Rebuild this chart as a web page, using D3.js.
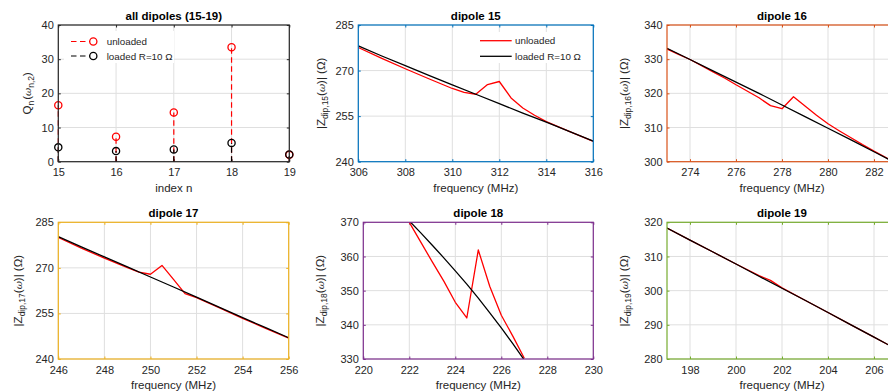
<!DOCTYPE html>
<html>
<head>
<meta charset="utf-8">
<script src="https://cdn.jsdelivr.net/npm/d3@7"></script>
<style>
  html, body { margin: 0; padding: 0; background: #fff; }
  svg { display: block; font-family: "Liberation Sans", Arial, Helvetica, sans-serif; }
</style>
</head>
<body>
<svg id="chart" width="888" height="392"></svg>
<script>
// ---------------- data ----------------
const dipoleIdx = [15, 16, 17, 18, 19];
const qUnloaded = [16.5, 7.3, 14.4, 33.5, 2.0];
const qLoaded   = [4.2, 3.1, 3.6, 5.5, 2.1];

// dipole 15
const f15Unl = [306, 307, 308, 309, 310, 310.5, 311, 311.5, 312, 312.5, 313, 313.5, 314, 315, 316];
const z15Unl = [277.6, 274.0, 270.6, 267.3, 264.1, 262.8, 262.2, 265.4, 266.4, 261.0, 257.7, 255.3, 253.2, 249.9, 246.7];
const f15Ld  = [306, 307, 308, 309, 310, 311, 312, 313, 314, 315, 316];
const z15Ld  = [278.1, 274.8, 271.6, 268.4, 265.3, 262.2, 259.1, 256.0, 253.0, 249.9, 246.8];

// dipole 16
const f16Unl = [273, 273.5, 274, 274.5, 275, 275.5, 276, 276.5, 277, 277.5, 278, 278.5, 279, 279.5, 280, 280.5, 281, 281.5, 282, 282.5, 283];
const z16Unl = [333.0, 331.4, 329.9, 328.1, 326.3, 324.5, 322.5, 320.6, 318.7, 316.4, 315.5, 319.0, 316.3, 313.6, 311.1, 309.0, 307.0, 305.0, 303.1, 301.3, 299.4];
const f16Ld  = [273, 274, 275, 276, 277, 278, 279, 280, 281, 282, 283];
const z16Ld  = [333.2, 329.9, 326.6, 323.3, 320.0, 316.6, 313.2, 309.8, 306.4, 302.9, 299.4];

// dipole 17
const f17Unl = [246, 247, 248, 249, 249.5, 250, 250.5, 251, 251.5, 252, 253, 254, 255, 256];
const z17Unl = [280.0, 276.5, 273.2, 270.1, 268.6, 267.9, 270.8, 266.2, 261.5, 260.2, 256.8, 253.4, 250.1, 246.9];
const f17Ld  = [246, 247, 248, 249, 250, 251, 252, 253, 254, 255, 256];
const z17Ld  = [280.3, 276.9, 273.6, 270.3, 267.0, 263.7, 260.4, 257.0, 253.6, 250.3, 247.0];

// dipole 18
const f18Unl = [222, 222.5, 223, 223.5, 224, 224.5, 225, 225.5, 226, 226.5, 227];
const z18Unl = [370.0, 364.2, 358.4, 352.8, 346.6, 342.0, 361.9, 351.2, 342.8, 336.7, 330.2];
const f18Ld  = [222, 222.5, 223, 223.5, 224, 224.5, 225, 225.5, 226, 226.5, 227];
const z18Ld  = [370.4, 366.9, 363.3, 359.6, 355.8, 351.9, 347.8, 343.5, 339.1, 334.5, 329.7];

// dipole 19
const f19Unl = [197, 198, 199, 200, 201, 201.5, 202, 203, 204, 205, 206, 207];
const z19Unl = [318.3, 314.8, 311.3, 307.8, 304.4, 303.0, 300.8, 297.2, 293.6, 290.0, 286.4, 282.8];
const f19Ld  = [197, 198, 199, 200, 201, 202, 203, 204, 205, 206, 207];
const z19Ld  = [318.3, 314.8, 311.3, 307.8, 304.2, 300.7, 297.2, 293.6, 290.0, 286.4, 282.8];

const legendLabels = ["unloaded", "loaded R=10 \u03A9"];

// ---------------- helpers ----------------
const svg = d3.select("#chart");
const TICK_FS = 11, LABEL_FS = 11.5, TITLE_FS = 11.5, LEG_FS = 9.8;
const TXT = "#262626", GRID = "#dfdfdf";

function makePanel(cfg) {
  const g = svg.append("g");
  const x = d3.scaleLinear().domain(cfg.xDomain).range([cfg.left, cfg.right]);
  const y = d3.scaleLinear().domain(cfg.yDomain).range([cfg.bottom, cfg.top]);
  const clipId = "clip" + cfg.id;
  svg.append("clipPath").attr("id", clipId).append("rect")
    .attr("x", cfg.left).attr("y", cfg.top)
    .attr("width", cfg.right - cfg.left).attr("height", cfg.bottom - cfg.top);

  // grid
  g.append("g").selectAll("line").data(cfg.xTicks).join("line")
    .attr("x1", d => x(d)).attr("x2", d => x(d))
    .attr("y1", cfg.top).attr("y2", cfg.bottom)
    .attr("stroke", GRID).attr("stroke-width", 1);
  g.append("g").selectAll("line").data(cfg.yTicks).join("line")
    .attr("x1", cfg.left).attr("x2", cfg.right)
    .attr("y1", d => y(d)).attr("y2", d => y(d))
    .attr("stroke", GRID).attr("stroke-width", 1);

  const tl = 2.5;
  const axB = g.append("g").attr("transform", `translate(0,${cfg.bottom})`)
    .call(d3.axisBottom(x).tickValues(cfg.xTicks).tickFormat(d3.format("d")).tickSizeInner(-tl).tickSizeOuter(0).tickPadding(7));
  const axT = g.append("g").attr("transform", `translate(0,${cfg.top})`)
    .call(d3.axisTop(x).tickValues(cfg.xTicks).tickFormat("").tickSizeInner(-tl).tickSizeOuter(0));
  const axL = g.append("g").attr("transform", `translate(${cfg.left},0)`)
    .call(d3.axisLeft(y).tickValues(cfg.yTicks).tickFormat(d3.format("d")).tickSizeInner(-tl).tickSizeOuter(0).tickPadding(4.5));
  const axR = g.append("g").attr("transform", `translate(${cfg.right},0)`)
    .call(d3.axisRight(y).tickValues(cfg.yTicks).tickFormat("").tickSizeInner(-tl).tickSizeOuter(0));
  [axB, axT, axL, axR].forEach(a => {
    a.select(".domain").remove();
    a.selectAll(".tick line").attr("stroke", cfg.color).attr("stroke-width", 1);
    a.selectAll(".tick text").attr("fill", TXT).attr("font-size", TICK_FS)
      .attr("font-family", "Liberation Sans, Arial, sans-serif");
  });

  // data
  const plot = g.append("g").attr("clip-path", cfg.clipData === false ? null : `url(#${clipId})`);
  cfg.draw(plot, x, y);

  // box
  g.append("rect").attr("x", cfg.left).attr("y", cfg.top)
    .attr("width", cfg.right - cfg.left).attr("height", cfg.bottom - cfg.top)
    .attr("fill", "none").attr("stroke", cfg.color).attr("stroke-width", 1.2);

  // title
  g.append("text").attr("x", (cfg.left + cfg.right) / 2).attr("y", cfg.top - 5)
    .attr("text-anchor", "middle").attr("font-weight", "bold").attr("font-size", TITLE_FS)
    .attr("fill", "#000").text(cfg.title);
  // x label
  g.append("text").attr("x", (cfg.left + cfg.right) / 2).attr("y", cfg.bottom + 30)
    .attr("text-anchor", "middle").attr("font-size", LABEL_FS).attr("fill", TXT).text(cfg.xLabel);
  // y label
  const yl = g.append("text")
    .attr("transform", `translate(${cfg.left - cfg.yLabelOff},${(cfg.top + cfg.bottom) / 2}) rotate(-90)`)
    .attr("text-anchor", "middle").attr("font-size", LABEL_FS).attr("fill", TXT);
  cfg.yLabel(yl);
  if (cfg.legend) cfg.legend(g, x, y);
  return { x, y };
}

function zLabel(n) {
  return t => {
    t.append("tspan").text("|Z");
    t.append("tspan").attr("font-size", 8.5).attr("dy", 3).text("dip," + n);
    t.append("tspan").attr("dy", -3).text("(");
    t.append("tspan").attr("font-style", "italic").attr("font-family", "DejaVu Serif, serif").attr("font-size", 10).text("\u03C9");
    t.append("tspan").text(")| (\u03A9)");
  };
}

function drawPair(fU, zU, fL, zL) {
  return (p, x, y) => {
    const line = d3.line().x(d => x(d[0])).y(d => y(d[1]));
    p.append("path").datum(d3.zip(fU, zU)).attr("d", line)
      .attr("fill", "none").attr("stroke", "#ff0000").attr("stroke-width", 1.3).attr("stroke-linejoin", "round");
    p.append("path").datum(d3.zip(fL, zL)).attr("d", line)
      .attr("fill", "none").attr("stroke", "#000").attr("stroke-width", 1.3).attr("stroke-linejoin", "round");
  };
}

const ROW1 = { top: 25, bottom: 161.7 };
const ROW2 = { top: 222.3, bottom: 359 };

// ---------------- panel 1 ----------------
makePanel({
  id: 1, left: 58.3, right: 289.3, ...ROW1,
  xDomain: [15, 19], yDomain: [0, 40],
  xTicks: dipoleIdx, yTicks: [0, 10, 20, 30, 40],
  color: "#262626", title: "all dipoles (15-19)", xLabel: "index n",
  yLabelOff: 27, clipData: false,
  yLabel: t => {
    t.append("tspan").text("Q");
    t.append("tspan").attr("font-size", 8.5).attr("dy", 3).text("n");
    t.append("tspan").attr("dy", -3).attr("dx", 1).text("(");
    t.append("tspan").attr("font-style", "italic").attr("font-family", "DejaVu Serif, serif").attr("font-size", 10).text("\u03C9");
    t.append("tspan").attr("font-size", 8.5).attr("dy", 3).text("n,2");
    t.append("tspan").attr("dy", -3).text(")");
  },
  draw: (p, x, y) => {
    const series = [[qUnloaded, "#ff0000"], [qLoaded, "#000"]];
    series.forEach(([vals, col]) => {
      p.append("g").selectAll("line").data(vals).join("line")
        .attr("x1", (d, i) => x(dipoleIdx[i])).attr("x2", (d, i) => x(dipoleIdx[i]))
        .attr("y1", y(0)).attr("y2", d => y(d))
        .attr("stroke", col).attr("stroke-width", 1.2).attr("stroke-dasharray", "5.5,3.5");
    });
    series.forEach(([vals, col]) => {
      p.append("g").selectAll("circle").data(vals).join("circle")
        .attr("cx", (d, i) => x(dipoleIdx[i])).attr("cy", d => y(d)).attr("r", 3.6)
        .attr("fill", "none").attr("stroke", col).attr("stroke-width", 1.3);
    });
  },
  legend: (g) => {
    g.append("rect").attr("x", 64).attr("y", 31).attr("width", 110).attr("height", 32).attr("fill", "#fff");
    const rows = [[legendLabels[0], "#ff0000", 41.5], [legendLabels[1], "#000", 56]];
    rows.forEach(([lab, col, yy]) => {
      g.append("line").attr("x1", 71).attr("x2", 90).attr("y1", yy).attr("y2", yy)
        .attr("stroke", col).attr("stroke-width", 1.2).attr("stroke-dasharray", "5.5,3.5");
      g.append("circle").attr("cx", 93.3).attr("cy", yy).attr("r", 3.6)
        .attr("fill", "none").attr("stroke", col).attr("stroke-width", 1.3);
      g.append("text").attr("x", 106.7).attr("y", yy + 3.5).attr("font-size", LEG_FS).attr("fill", TXT).text(lab);
    });
  }
});

// ---------------- panel 2 ----------------
makePanel({
  id: 2, left: 358.3, right: 593.3, ...ROW1,
  xDomain: [306, 316], yDomain: [240, 285],
  xTicks: [306, 308, 310, 312, 314, 316], yTicks: [240, 255, 270, 285],
  color: "#0072BD", title: "dipole 15", xLabel: "frequency (MHz)",
  yLabelOff: 33, yLabel: zLabel(15),
  draw: drawPair(f15Unl, z15Unl, f15Ld, z15Ld),
  legend: (g) => {
    g.append("rect").attr("x", 476).attr("y", 32).attr("width", 114).attr("height", 31).attr("fill", "#fff");
    const rows = [[legendLabels[0], "#ff0000", 40.7], [legendLabels[1], "#000", 56.3]];
    rows.forEach(([lab, col, yy]) => {
      g.append("line").attr("x1", 480).attr("x2", 511.7).attr("y1", yy).attr("y2", yy)
        .attr("stroke", col).attr("stroke-width", 1.3);
      g.append("text").attr("x", 515).attr("y", yy + 3.5).attr("font-size", LEG_FS).attr("fill", TXT).text(lab);
    });
  }
});

// ---------------- panel 3 ----------------
makePanel({
  id: 3, left: 667, right: 897, ...ROW1,
  xDomain: [273, 283], yDomain: [300, 340],
  xTicks: [274, 276, 278, 280, 282], yTicks: [300, 310, 320, 330, 340],
  color: "#D95319", title: "dipole 16", xLabel: "frequency (MHz)",
  yLabelOff: 39, yLabel: zLabel(16),
  draw: drawPair(f16Unl, z16Unl, f16Ld, z16Ld)
});

// ---------------- panel 4 ----------------
makePanel({
  id: 4, left: 58.3, right: 288.7, ...ROW2,
  xDomain: [246, 256], yDomain: [240, 285],
  xTicks: [246, 248, 250, 252, 254, 256], yTicks: [240, 255, 270, 285],
  color: "#EDB120", title: "dipole 17", xLabel: "frequency (MHz)",
  yLabelOff: 36, yLabel: zLabel(17),
  draw: drawPair(f17Unl, z17Unl, f17Ld, z17Ld)
});

// ---------------- panel 5 ----------------
makePanel({
  id: 5, left: 363.3, right: 593.3, ...ROW2,
  xDomain: [220, 230], yDomain: [330, 370],
  xTicks: [220, 222, 224, 226, 228, 230], yTicks: [330, 340, 350, 360, 370],
  color: "#7E2F8E", title: "dipole 18", xLabel: "frequency (MHz)",
  yLabelOff: 39, yLabel: zLabel(18),
  draw: drawPair(f18Unl, z18Unl, f18Ld, z18Ld)
});

// ---------------- panel 6 ----------------
makePanel({
  id: 6, left: 667, right: 897, ...ROW2,
  xDomain: [197, 207], yDomain: [280, 320],
  xTicks: [198, 200, 202, 204, 206], yTicks: [280, 290, 300, 310, 320],
  color: "#77AC30", title: "dipole 19", xLabel: "frequency (MHz)",
  yLabelOff: 39, yLabel: zLabel(19),
  draw: drawPair(f19Unl, z19Unl, f19Ld, z19Ld)
});
</script>
</body>
</html>
